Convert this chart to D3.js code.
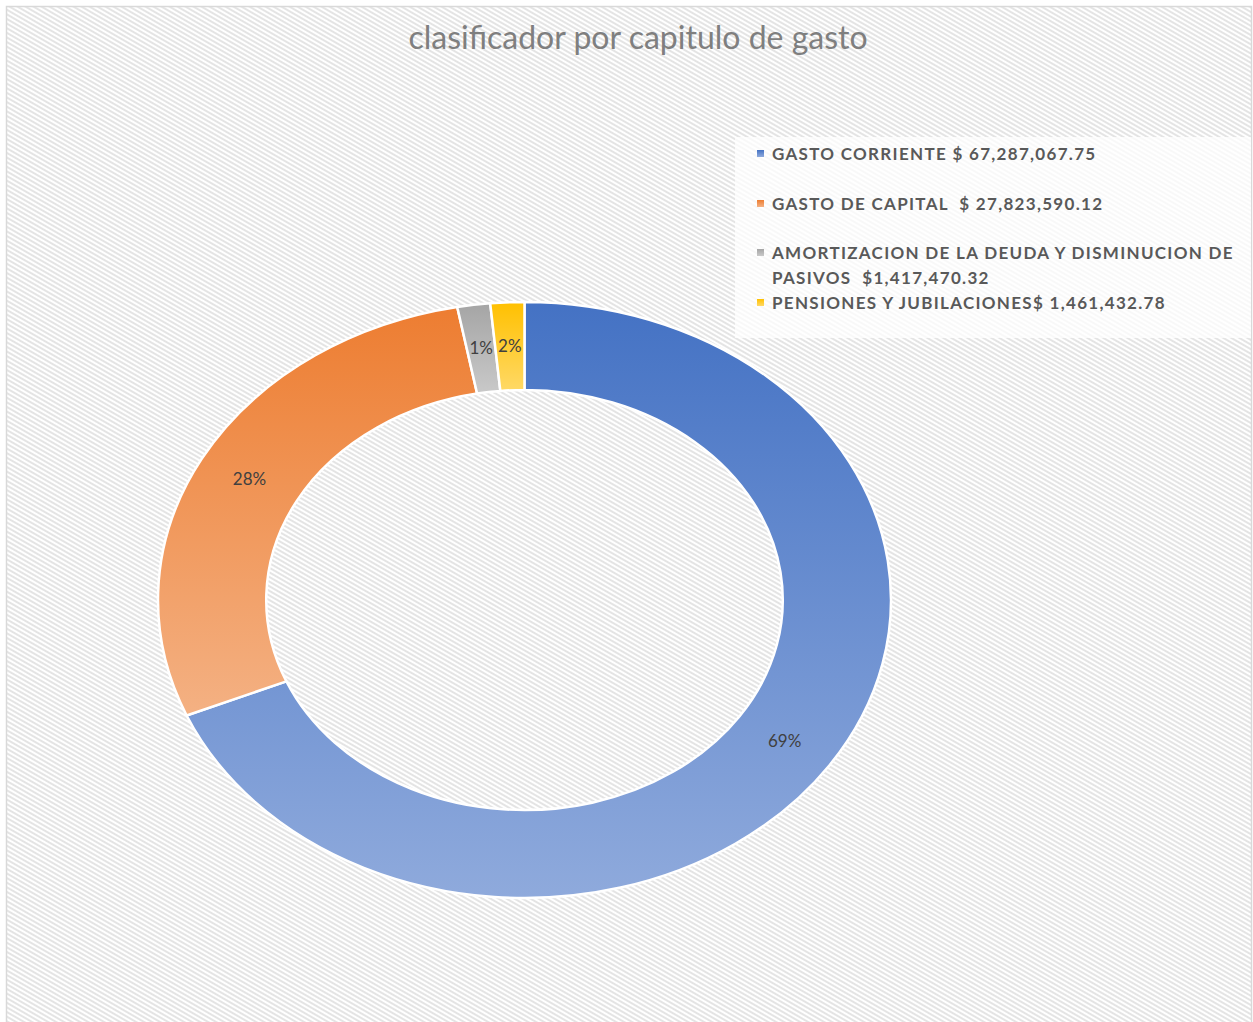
<!DOCTYPE html>
<html>
<head>
<meta charset="utf-8">
<script src="https://cdn.jsdelivr.net/npm/d3@7"></script>
<style>
    html, body { margin: 0; padding: 0; background: #fff; overflow: hidden; }
    text { white-space: pre; }
</style>
</head>
<body>
<div id="chart"></div>
<script>
// Chart data
const title = 'clasificador por capitulo de gasto';
const categories = ['GASTO CORRIENTE', 'GASTO DE CAPITAL', 'AMORTIZACION DE LA DEUDA Y DISMINUCION DE PASIVOS', 'PENSIONES Y JUBILACIONES'];
const values = [67287067.75, 27823590.12, 1417470.32, 1461432.78];
const pctLabels = ['69%', '28%', '1%', '2%'];
const legendLines = [
    ['GASTO CORRIENTE $ 67,287,067.75'],
    ['GASTO DE CAPITAL  $ 27,823,590.12'],
    ['AMORTIZACION DE LA DEUDA Y DISMINUCION DE', 'PASIVOS  $1,417,470.32'],
    ['PENSIONES Y JUBILACIONES$ 1,461,432.78']
];
const colorsTop = ['#4472C4', '#ED7D31', '#A5A5A5', '#FFC000'];
const colorsBottom = ['#8FAADC', '#F4B183', '#C9C9C9', '#FFD966'];

const width = 1253;
const height = 1022;

const svg = d3.select('#chart')
    .append('svg')
    .attr('width', width)
    .attr('height', height);

const defs = svg.append('defs');

// Hatched background
const pattern = defs.append('pattern')
    .attr('id', 'hatch')
    .attr('patternUnits', 'userSpaceOnUse')
    .attr('width', 6)
    .attr('height', 4)
    .attr('patternTransform', 'rotate(30)');
pattern.append('rect')
    .attr('width', 6).attr('height', 4).attr('fill', '#ffffff');
pattern.append('rect')
    .attr('width', 6).attr('height', 2).attr('fill', '#e4e4e4');

svg.append('rect')
    .attr('x', 6.5)
    .attr('y', 6.5)
    .attr('width', width - 8)
    .attr('height', height + 10)
    .attr('fill', 'url(#hatch)')
    .attr('stroke', '#d9d9d9')
    .attr('stroke-width', 1.5);

// Slice gradients
categories.forEach((c, i) => {
    const g = defs.append('linearGradient')
        .attr('id', `grad${i}`)
        .attr('x1', 0).attr('y1', 0).attr('x2', 0).attr('y2', 1);
    g.append('stop').attr('offset', '0%').attr('stop-color', colorsTop[i]);
    g.append('stop').attr('offset', '100%').attr('stop-color', colorsBottom[i]);
});

// Title
svg.append('text')
    .attr('x', 638)
    .attr('y', 49)
    .attr('text-anchor', 'middle')
    .attr('font-family', 'Lato, "Open Sans", sans-serif')
    .attr('font-size', 32)
    .attr('fill', '#7f7f7f')
    .text(title);

// Donut
const cx = 524.5, cy = 600;
const outerR = 298, innerR = 210;
const sx = 366.5 / 298;

const pie = d3.pie().sort(null).value(d => d);
const arcs = pie(values);
const arc = d3.arc().innerRadius(innerR).outerRadius(outerR);

const donut = svg.append('g')
    .attr('transform', `translate(${cx},${cy}) scale(${sx},1)`);

donut.selectAll('path')
    .data(arcs)
    .join('path')
    .attr('d', arc)
    .attr('fill', (d, i) => `url(#grad${i})`)
    .attr('stroke', '#ffffff')
    .attr('stroke-width', 2.5)
    .attr('vector-effect', 'non-scaling-stroke');

// Percentage labels
svg.append('g')
    .selectAll('text')
    .data(arcs)
    .join('text')
    .attr('x', d => cx + arc.centroid(d)[0] * sx)
    .attr('y', d => cy + arc.centroid(d)[1])
    .attr('dy', '0.35em')
    .attr('text-anchor', 'middle')
    .attr('font-family', 'Lato, "Open Sans", sans-serif')
    .attr('font-size', 17)
    .attr('fill', '#404040')
    .text((d, i) => pctLabels[i]);

// Legend
svg.append('rect')
    .attr('x', 735)
    .attr('y', 137)
    .attr('width', 516)
    .attr('height', 201)
    .attr('fill', '#ffffff')
    .attr('fill-opacity', 0.75);

const legendY = [160, 210, 259, 309];
const legend = svg.append('g')
    .selectAll('g')
    .data(legendLines)
    .join('g')
    .attr('transform', (d, i) => `translate(0,${legendY[i]})`);

legend.append('rect')
    .attr('x', 757)
    .attr('y', -10)
    .attr('width', 7)
    .attr('height', 7)
    .attr('fill', (d, i) => `url(#grad${i})`);

legend.append('text')
    .attr('font-family', 'Lato, "Open Sans", sans-serif')
    .attr('font-weight', 'bold')
    .attr('font-size', 17)
    .attr('letter-spacing', 1.3)
    .attr('fill', '#595959')
    .selectAll('tspan')
    .data(d => d)
    .join('tspan')
    .attr('x', 772)
    .attr('y', (d, j) => j * 25)
    .text(d => d);
</script>
</body>
</html>
